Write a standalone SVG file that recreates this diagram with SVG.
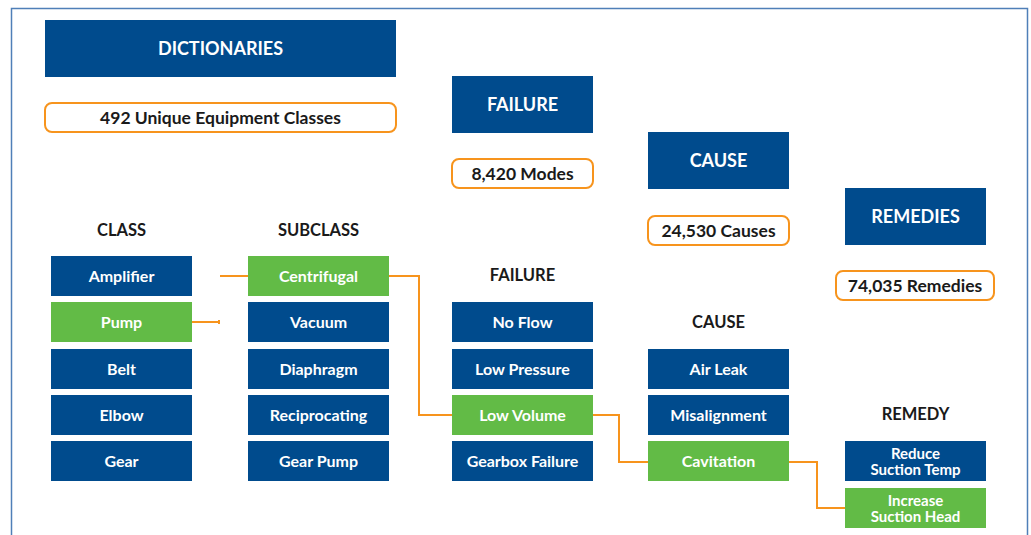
<svg xmlns="http://www.w3.org/2000/svg" width="1031" height="535" viewBox="0 0 1031 535">
<style>
text{font-family:Lato,"Open Sans","Liberation Sans",sans-serif;font-weight:bold;text-anchor:middle;dominant-baseline:central}
.b{fill:#004b8d}
.g{fill:#62bb46}
.w{fill:#ffffff;font-size:16px}
.w2{fill:#ffffff;font-size:15px}
.hw{fill:#ffffff;font-size:18px}
.pill{fill:#ffffff;stroke:#f7941d;stroke-width:2}
.pt{fill:#1a1a1a;font-size:17.5px}
.h{fill:#1a1a1a;font-size:16.5px}
.c{fill:none;stroke:#f7941d;stroke-width:2}
</style>
<rect width="1031" height="535" fill="#ffffff"/>
<path d="M11.5,535 V8.5 H1027.5 V535" fill="none" stroke="#4f7fb8" stroke-width="1.5"/>
<g id="dictionaries"><rect class="b" x="45" y="20" width="351" height="57"/><text class="hw" x="220.5" y="47.5">DICTIONARIES</text></g>
<g id="classes-count"><rect class="pill" x="45" y="103" width="351" height="29" rx="7"/><text class="pt" x="220.5" y="117">492 Unique Equipment Classes</text></g>
<g id="failure-head"><rect class="b" x="452" y="76" width="141" height="57"/><text class="hw" x="522.5" y="103.5">FAILURE</text></g>
<g id="modes-count"><rect class="pill" x="452" y="159" width="141" height="29" rx="7"/><text class="pt" x="522.5" y="173">8,420 Modes</text></g>
<g id="cause-head"><rect class="b" x="648" y="132" width="141" height="57"/><text class="hw" x="718.5" y="159.5">CAUSE</text></g>
<g id="causes-count"><rect class="pill" x="648" y="216" width="141" height="29" rx="7"/><text class="pt" x="718.5" y="230">24,530 Causes</text></g>
<g id="remedies-head"><rect class="b" x="845" y="188" width="141" height="57"/><text class="hw" x="915.5" y="215.5">REMEDIES</text></g>
<g id="remedies-count"><rect class="pill" x="836" y="271" width="158" height="29" rx="7"/><text class="pt" x="915" y="285">74,035 Remedies</text></g>

<g id="labels">
<text class="h" x="121.5" y="229.5">CLASS</text>
<text class="h" x="318.5" y="229.5">SUBCLASS</text>
<text class="h" x="522.5" y="274.5">FAILURE</text>
<text class="h" x="718.5" y="321.5">CAUSE</text>
<text class="h" x="915.5" y="413.5">REMEDY</text>
</g>

<g id="connectors">
<path class="c" d="M220,276 H248"/>
<path class="c" d="M192,322 H220 M219,320 V324"/>
<path class="c" d="M389,276 H419 V415 H452"/>
<path class="c" d="M593,415 H619 V462 H648"/>
<path class="c" d="M789,462 H817 V508 H845"/>
</g>

<g id="amplifier"><rect class="b" x="51" y="256" width="141" height="40"/><text class="w" x="121.5" y="275.5">Amplifier</text></g>
<g id="pump"><rect class="g" x="51" y="302" width="141" height="40"/><text class="w" x="121.5" y="321.5">Pump</text></g>
<g id="belt"><rect class="b" x="51" y="349" width="141" height="40"/><text class="w" x="121.5" y="368.5">Belt</text></g>
<g id="elbow"><rect class="b" x="51" y="395" width="141" height="40"/><text class="w" x="121.5" y="414.5">Elbow</text></g>
<g id="gear"><rect class="b" x="51" y="441" width="141" height="40"/><text class="w" x="121.5" y="460.5">Gear</text></g>

<g id="centrifugal"><rect class="g" x="248" y="256" width="141" height="40"/><text class="w" x="318.5" y="275.5">Centrifugal</text></g>
<g id="vacuum"><rect class="b" x="248" y="302" width="141" height="40"/><text class="w" x="318.5" y="321.5">Vacuum</text></g>
<g id="diaphragm"><rect class="b" x="248" y="349" width="141" height="40"/><text class="w" x="318.5" y="368.5">Diaphragm</text></g>
<g id="reciprocating"><rect class="b" x="248" y="395" width="141" height="40"/><text class="w" x="318.5" y="414.5">Reciprocating</text></g>
<g id="gear-pump"><rect class="b" x="248" y="441" width="141" height="40"/><text class="w" x="318.5" y="460.5">Gear Pump</text></g>

<g id="no-flow"><rect class="b" x="452" y="302" width="141" height="40"/><text class="w" x="522.5" y="321.5">No Flow</text></g>
<g id="low-pressure"><rect class="b" x="452" y="349" width="141" height="40"/><text class="w" x="522.5" y="368.5">Low Pressure</text></g>
<g id="low-volume"><rect class="g" x="452" y="395" width="141" height="40"/><text class="w" x="522.5" y="414.5">Low Volume</text></g>
<g id="gearbox-failure"><rect class="b" x="452" y="441" width="141" height="40"/><text class="w" x="522.5" y="460.5">Gearbox Failure</text></g>

<g id="air-leak"><rect class="b" x="648" y="349" width="141" height="40"/><text class="w" x="718.5" y="368.5">Air Leak</text></g>
<g id="misalignment"><rect class="b" x="648" y="395" width="141" height="40"/><text class="w" x="718.5" y="414.5">Misalignment</text></g>
<g id="cavitation"><rect class="g" x="648" y="441" width="141" height="40"/><text class="w" x="718.5" y="460.5">Cavitation</text></g>

<g id="reduce-suction-temp"><rect class="b" x="845" y="441" width="141" height="40"/><text class="w2" x="915.5" y="452.5">Reduce</text><text class="w2" x="915.5" y="468.5">Suction Temp</text></g>
<g id="increase-suction-head"><rect class="g" x="845" y="488" width="141" height="40"/><text class="w2" x="915.5" y="499.5">Increase</text><text class="w2" x="915.5" y="515.5">Suction Head</text></g>
</svg>
